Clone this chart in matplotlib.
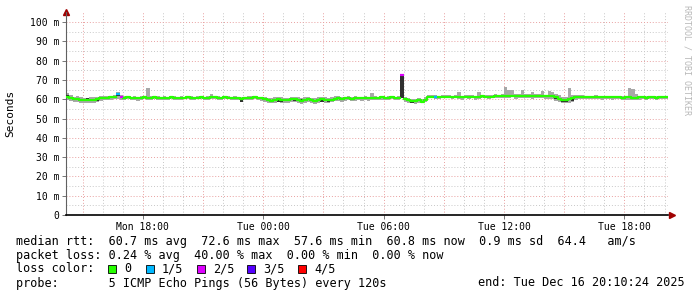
import matplotlib
matplotlib.use("Agg")
import matplotlib.pyplot as plt
import matplotlib.dates as mdates
from matplotlib.patches import Rectangle
from datetime import datetime, timedelta
import numpy as np

# === data: 10-minute steps, Mon 14:10:24 -> Tue 20:10:24 ===
start = datetime(2025, 12, 15, 14, 10, 24)
step = timedelta(minutes=10)

median = [
    61.3, 60.8, 60.2, 60.0, 59.7, 59.5,  59.4, 59.8, 59.5, 59.9, 60.6, 60.8,
    60.7, 60.9, 61.0, 62.6, 61.1, 60.8,  60.9, 60.7, 60.8, 60.6, 60.7, 60.9,
    60.8, 60.7, 60.9, 60.8, 60.7, 60.8,  60.7, 60.9, 60.8, 60.6, 60.7, 60.8,
    60.9, 60.8, 60.7, 60.8, 60.9, 60.7,  60.8, 60.9, 61.0, 60.8, 60.7, 60.9,
    60.8, 60.7, 60.8, 60.6, 59.9, 60.6,  60.7, 60.8, 60.9, 60.7, 60.5, 60.2,
    59.6, 59.3, 59.8, 60.1, 59.7, 59.5,  59.4, 59.9, 60.2, 59.6, 59.3, 59.8,
    60.1, 59.5, 59.2, 59.6, 60.0, 59.7,  59.5, 59.8, 60.3, 60.5, 60.2, 60.4,
    60.6, 60.3, 60.5, 60.7, 60.4, 60.6,  60.5, 60.7, 60.8, 60.6, 60.9, 60.7,
    60.8, 60.9, 60.7, 60.8, 72.6, 60.3,  59.6, 59.2, 58.9, 59.4, 58.8, 59.8,
    61.2, 61.4, 61.3, 61.2, 61.3, 61.4,  61.3, 61.2, 61.4, 61.3, 61.2, 61.4,
    61.3, 61.4, 61.2, 61.3, 61.5, 61.4,  61.3, 61.4, 61.6, 61.5, 61.6, 61.7,
    61.7, 61.8, 61.6, 61.8, 61.9, 61.7,  61.8, 61.6, 61.9, 61.7, 61.8, 61.6,
    61.7, 61.5, 60.9, 60.2, 59.8, 59.6,  59.9, 60.4, 60.9, 61.2, 61.1, 61.0,
    61.1, 61.0, 61.2, 61.0, 60.9, 61.0,  61.0, 60.9, 61.1, 61.0, 60.8, 60.9,
    60.9, 60.8, 60.7, 60.9, 61.0, 60.8,  60.9, 61.0, 60.8, 60.9, 61.0, 60.9,
]

smoke_hi = [
    63.2, 62.0, 61.3, 61.5, 61.0, 60.6,  60.8, 61.2, 60.9, 61.0, 61.5, 61.6,
    61.6, 61.7, 62.0, 63.6, 62.0, 61.5,  61.8, 61.4, 61.9, 61.3, 61.5, 61.8,
    65.8, 61.5, 61.6, 61.9, 61.4, 61.5,  61.4, 61.7, 61.5, 61.3, 61.6, 61.4,
    61.6, 61.5, 61.4, 61.7, 61.6, 61.4,  61.5, 62.9, 61.8, 61.5, 61.4, 61.6,
    61.5, 61.4, 61.6, 61.3, 61.2, 61.4,  61.5, 61.6, 61.7, 61.4, 61.3, 61.1,
    60.8, 60.6, 61.0, 61.2, 60.9, 60.7,  60.6, 61.1, 61.3, 60.9, 60.5, 61.0,
    61.2, 60.8, 60.4, 60.9, 61.2, 61.0,  60.8, 61.0, 61.5, 61.9, 61.3, 61.4,
    61.5, 61.2, 61.6, 61.4, 61.3, 61.5,  61.3, 63.4, 61.5, 61.4, 61.6, 61.4,
    61.5, 61.6, 61.4, 61.5, 72.6, 61.0,  60.5, 60.2, 59.9, 60.4, 59.9, 61.0,
    62.0, 62.1, 62.0, 61.9, 62.0, 62.2,  62.0, 61.9, 62.2, 63.9, 61.9, 62.1,
    62.0, 62.2, 61.9, 63.5, 62.3, 62.1,  62.1, 62.3, 62.5, 62.4, 62.6, 66.4,
    64.8, 64.6, 62.6, 62.9, 65.0, 62.6,  62.7, 63.5, 62.9, 62.5, 64.2, 62.4,
    64.5, 63.8, 62.8, 62.2, 61.4, 61.2,  65.6, 62.3, 62.4, 62.2, 62.0, 61.8,
    61.9, 61.8, 62.0, 61.7, 61.6, 61.8,  61.7, 61.6, 61.9, 61.8, 61.5, 61.7,
    65.6, 65.3, 62.8, 61.6, 61.8, 61.5,  61.6, 61.7, 61.5, 61.6, 61.7, 61.6,
]

smoke_lo = [
    59.6, 59.0, 58.6, 58.4, 58.2, 58.1,  58.0, 58.3, 58.1, 58.5, 59.3, 59.6,
    59.5, 59.8, 59.9, 60.3, 59.8, 59.6,  59.9, 59.6, 59.8, 59.3, 59.8, 59.9,
    59.8, 59.7, 59.9, 59.6, 59.8, 59.7,  59.8, 59.9, 59.7, 59.6, 59.8, 59.9,
    60.0, 59.8, 59.7, 59.9, 60.0, 59.6,  59.8, 60.0, 60.1, 59.8, 59.7, 59.9,
    59.9, 59.7, 59.8, 59.5, 58.6, 59.6,  59.8, 59.7, 59.9, 59.6, 59.0, 58.7,
    58.2, 57.8, 58.3, 58.6, 58.1, 57.9,  58.0, 58.4, 58.8, 58.1, 57.7, 58.3,
    58.6, 58.0, 57.6, 58.2, 58.5, 58.3,  58.1, 58.4, 59.0, 59.3, 58.8, 59.1,
    59.4, 59.0, 59.3, 59.5, 59.1, 59.4,  59.3, 59.5, 59.7, 59.5, 59.8, 59.6,
    59.8, 59.9, 59.7, 59.6, 60.5, 58.8,  58.3, 57.9, 57.7, 58.2, 57.8, 58.6,
    60.4, 60.6, 60.3, 60.2, 60.5, 60.6,  60.4, 60.1, 60.5, 60.3, 59.6, 60.5,
    60.2, 60.5, 59.4, 60.3, 60.6, 60.4,  60.2, 60.5, 60.7, 60.4, 60.6, 60.8,
    60.7, 60.9, 60.3, 60.6, 60.8, 60.5,  60.6, 60.2, 60.8, 60.4, 60.7, 60.3,
    60.3, 59.9, 58.9, 58.4, 58.0, 58.2,  58.3, 58.8, 59.6, 60.2, 60.0, 59.9,
    60.1, 60.0, 60.2, 59.9, 59.8, 60.0,  60.0, 59.8, 60.1, 59.9, 59.7, 59.8,
    59.7, 59.6, 59.5, 59.8, 59.9, 59.7,  59.9, 60.0, 59.8, 59.9, 60.0, 59.9,
]

# darker inner smoke (pings close to the median)
dark_idx = [0, 6, 7, 9, 15, 52, 63, 64, 66, 68, 70, 71, 74, 76, 78,
            100, 101, 103, 104, 106, 146, 147, 148, 149, 151]
dark_lo = [60.8, 58.9, 59.0, 59.2, 61.5, 58.8, 58.6, 58.4, 59.2, 58.9, 58.5, 59.0, 58.7, 58.4, 58.8,
           60.8, 59.5, 58.2, 58.9, 58.0, 60.2, 59.4, 58.8, 58.5, 59.0]
dark_hi = [62.2, 60.4, 60.0, 60.3, 62.8, 60.3, 59.9, 59.6, 60.0, 60.2, 59.9, 60.1, 59.8, 59.6, 59.8,
           72.4, 60.2, 59.3, 59.8, 59.2, 61.4, 60.5, 59.7, 59.5, 60.2]

# lost pings per step (out of 5); 0 everywhere else
loss_idx = [15, 16, 100, 110]
loss_val = [1, 2, 2, 1]

loss_labels = ["0", "1/5", "2/5", "3/5", "4/5"]
loss_colors = ["#26ff00", "#00b8ff", "#dd00ff", "#5500ff", "#ff0000"]

y_ticks = [0, 10, 20, 30, 40, 50, 60, 70, 80, 90, 100]

# === figure ===
W, H = 697, 297
fig = plt.figure(figsize=(W / 100, H / 100), dpi=100)
fig.patch.set_facecolor("white")
ax = fig.add_axes([66 / W, 82 / H, 602 / W, 203 / H])

mono = "DejaVu Sans Mono"
times = [start + i * step for i in range(len(median))]
tnum = mdates.date2num(times)
dt = tnum[1] - tnum[0]
end = start + len(median) * step

# grid
ax.set_xlim(mdates.date2num(start), mdates.date2num(end))
ax.set_ylim(0, 105.2)
grey_grid = dict(color="#c8c8c8", lw=0.7, ls=(0, (1, 2)), zorder=0)
red_grid = dict(color="#e8a0a0", lw=0.7, ls=(0, (1, 2)), zorder=0)
t = datetime(2025, 12, 15, 15, 0)
while t < end:
    ax.axvline(mdates.date2num(t), **(red_grid if t.hour % 3 == 0 else grey_grid))
    t += timedelta(hours=1)
for v in range(5, 105, 10):
    ax.axhline(v, **grey_grid)
for v in y_ticks[1:]:
    ax.axhline(v, **red_grid)

# smoke
lo = np.array(smoke_lo)
hi = np.array(smoke_hi)
ax.bar(tnum, hi - lo, bottom=lo, width=dt, align="edge", color="#a8a8a8", lw=0, zorder=2)
d_t = tnum[dark_idx]
ax.bar(d_t, np.array(dark_hi) - np.array(dark_lo), bottom=dark_lo, width=dt,
       align="edge", color="#303030", lw=0, zorder=3)

# median line coloured by loss
loss = np.zeros(len(median), dtype=int)
loss[loss_idx] = loss_val
med = np.array(median)
green = np.where(loss == 0, med, np.nan)
tx = np.append(tnum, tnum[-1] + dt)
ax.plot(tx, np.append(green, green[-1]), drawstyle="steps-post",
        color=loss_colors[0], lw=1.6, zorder=4)
for i, lv in zip(loss_idx, loss_val):
    ax.hlines(med[i], tnum[i], tnum[i] + dt, color=loss_colors[lv], lw=1.6, zorder=5)

# axes styling
for s in ["top", "right"]:
    ax.spines[s].set_visible(False)
ax.spines["left"].set_color("#606060")
ax.spines["bottom"].set_color("black")
ax.spines["bottom"].set_linewidth(1.2)
ax.set_yticks(y_ticks)
ax.set_yticklabels([f"{v} m" if v else "0" for v in y_ticks], fontfamily=mono, fontsize=7)
ax.xaxis.set_major_locator(mdates.HourLocator(byhour=[0, 6, 12, 18]))
ax.xaxis.set_major_formatter(mdates.DateFormatter("%a %H:%M"))
for lab in ax.get_xticklabels():
    lab.set_fontfamily(mono)
    lab.set_fontsize(7)
ax.tick_params(axis="both", length=3, width=0.6, color="#606060", pad=2)
ax.set_facecolor("white")

# arrows
ax.plot([0], [1.0], marker="^", color="#a00000", ms=4, transform=ax.transAxes, clip_on=False)
ax.plot([1.006], [0], marker=">", color="#a00000", ms=4, transform=ax.transAxes, clip_on=False)

# labels
fig.text(10 / W, 1 - 113 / H, "Seconds", rotation=90, ha="center", va="center",
         fontfamily=mono, fontsize=8)
fig.text(687 / W, 1 - 5 / H, "RRDTOOL / TOBI OETIKER", rotation=-90, ha="center", va="top",
         fontfamily=mono, fontsize=6, color="#b8b8b8")

# legend block
fs = 8.5
rows = [
    "median rtt:  60.7 ms avg  72.6 ms max  57.6 ms min  60.8 ms now  0.9 ms sd  64.4   am/s",
    "packet loss: 0.24 % avg  40.00 % max  0.00 % min  0.00 % now",
    "loss color:",
    "probe:       5 ICMP Echo Pings (56 Bytes) every 120s",
]
for k, r in enumerate(rows):
    fig.text(16 / W, 1 - (241 + 14 * k) / H, r, ha="left", va="center",
             fontfamily=mono, fontsize=fs)
fig.text(478 / W, 1 - 283 / H, "end: Tue Dec 16 20:10:24 2025", ha="left", va="center",
         fontfamily=mono, fontsize=fs)

sq_x = [108, 146, 197, 247, 298]
for x0, c, lab in zip(sq_x, loss_colors, loss_labels):
    fig.patches.append(Rectangle((x0 / W, 1 - 273 / H), 8 / W, 8 / H, transform=fig.transFigure,
                                 facecolor=c, edgecolor="black", lw=0.6))
    fig.text((x0 + 16) / W, 1 - 269 / H, lab, ha="left", va="center",
             fontfamily=mono, fontsize=fs)

fig.savefig("out.png", dpi=100)
